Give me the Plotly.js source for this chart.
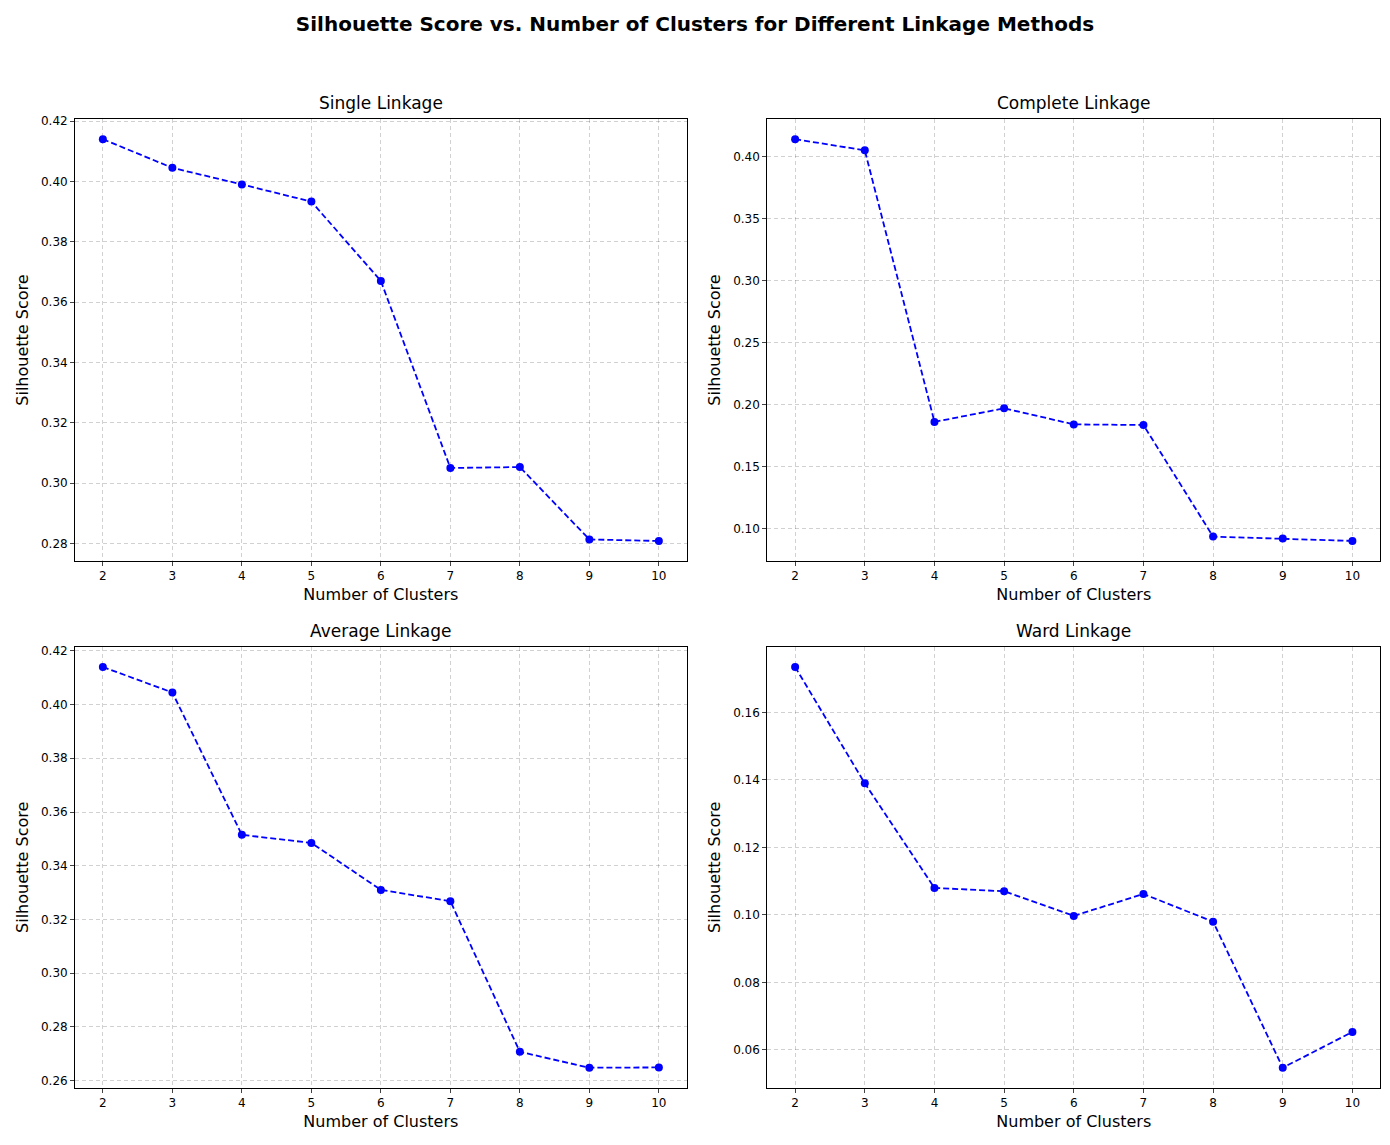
<!DOCTYPE html>
<html><head><meta charset="utf-8">
<script src="https://cdn.plot.ly/plotly-3.0.1.min.js"></script>
<style>body{margin:0}</style></head>
<body><div id="chart" style="width:1390px;height:1145px"></div>
<script>
const clusters = [2, 3, 4, 5, 6, 7, 8, 9, 10];
const singleScores = [0.414, 0.4045, 0.399, 0.3933, 0.367, 0.305, 0.3053, 0.2813, 0.2808];
const completeScores = [0.414, 0.405, 0.186, 0.197, 0.184, 0.1835, 0.0935, 0.092, 0.090];
const averageScores = [0.414, 0.4045, 0.3515, 0.3485, 0.331, 0.3268, 0.2707, 0.2648, 0.2649];
const wardScores = [0.1735, 0.139, 0.108, 0.107, 0.0997, 0.1062, 0.098, 0.0547, 0.0653];
const panelTitles = ["Single Linkage", "Complete Linkage", "Average Linkage", "Ward Linkage"];
const series = [singleScores, completeScores, averageScores, wardScores];
const yTickStep = [0.02, 0.05, 0.02, 0.02];

const xDom = [[0.054, 0.494], [0.552, 0.993], [0.054, 0.494], [0.552, 0.993]];
const yDom = [[0.510, 0.896], [0.510, 0.896], [0.050, 0.435], [0.050, 0.435]];

const data = [];
const layout = {
  width: 1390, height: 1145, showlegend: false,
  paper_bgcolor: "white", plot_bgcolor: "white",
  font: {family: "DejaVu Sans", size: 12, color: "black"},
  margin: {l: 0, r: 0, t: 0, b: 0},
  title: {text: "<b>Silhouette Score vs. Number of Clusters for Different Linkage Methods</b>",
          font: {size: 20}, x: 0.5, y: 0.985, xanchor: "center", yanchor: "top"},
  annotations: []
};

series.forEach((ys, i) => {
  const n = i + 1;
  const xa = "x" + (n === 1 ? "" : n), ya = "y" + (n === 1 ? "" : n);
  data.push({x: clusters, y: ys, type: "scatter", mode: "lines+markers",
    xaxis: xa, yaxis: ya,
    line: {color: "blue", dash: "6px,3px", width: 1.8},
    marker: {color: "blue", size: 8}});
  const lo = Math.min(...ys), hi = Math.max(...ys), pad = (hi - lo) * 0.05;
  const common = {showline: true, mirror: true, linecolor: "black", linewidth: 1,
    ticks: "outside", ticklen: 4, showgrid: true, gridcolor: "rgba(0,0,0,0.18)",
    griddash: "4px,3px", gridwidth: 1, zeroline: false, tickfont: {size: 12}};
  layout["xaxis" + (n === 1 ? "" : n)] = Object.assign({}, common, {
    domain: xDom[i], anchor: ya, range: [1.6, 10.4], dtick: 1, tick0: 2,
    title: {text: "Number of Clusters", font: {size: 16}, standoff: 6}});
  layout["yaxis" + (n === 1 ? "" : n)] = Object.assign({}, common, {
    domain: yDom[i], anchor: xa, range: [lo - pad, hi + pad], dtick: yTickStep[i], tick0: 0,
    tickformat: ".2f",
    title: {text: "Silhouette Score", font: {size: 16}, standoff: 8}});
  layout.annotations.push({text: panelTitles[i], showarrow: false,
    xref: "paper", yref: "paper", x: (xDom[i][0] + xDom[i][1]) / 2, y: yDom[i][1],
    xanchor: "center", yanchor: "bottom", yshift: 4, font: {size: 17}});
});

Plotly.newPlot("chart", data, layout, {displayModeBar: false});
</script></body></html>
